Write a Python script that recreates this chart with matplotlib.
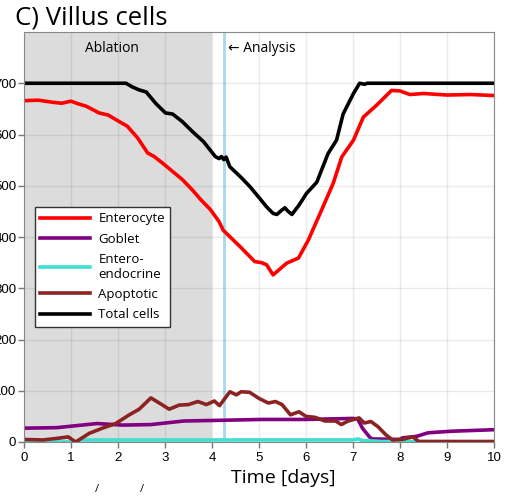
import numpy as np
import matplotlib
matplotlib.use("Agg")
import matplotlib.pyplot as plt

# values (time in days, cell counts)
t_total = [0, 2.17, 2.3, 2.45, 2.6, 2.8, 3.01, 3.16, 3.37, 3.58, 3.82, 4.07, 4.15, 4.2, 4.25, 4.3,
           4.38, 4.6, 4.81, 5.0, 5.16, 5.3, 5.38, 5.48, 5.55, 5.62, 5.70, 5.85, 6.01, 6.23, 6.47,
           6.65, 6.79, 7.01, 7.14, 7.25, 7.3, 10]
total = [700, 700, 693, 687, 683, 661, 642, 640, 625, 606, 586, 557, 553, 557, 551, 556,
         537, 518, 498, 477, 459, 446, 444, 452, 457, 450, 444, 462, 485, 507, 563,
         589, 640, 680, 700, 698, 700, 700]

t_ent = [0, 0.3, 0.6, 0.8, 1.0, 1.15, 1.33, 1.6, 1.79, 2.03, 2.2, 2.42, 2.63, 2.77, 2.95, 3.16,
         3.37, 3.58, 3.76, 3.97, 4.15, 4.24, 4.6, 4.91, 5.05, 5.16, 5.30, 5.45, 5.59, 5.84, 6.05,
         6.30, 6.58, 6.76, 7.01, 7.22, 7.50, 7.82, 8.0, 8.21, 8.5, 9.0, 9.5, 10]
enterocyte = [666, 667, 663, 661, 665, 660, 655, 642, 638, 625, 616, 593, 564, 557, 544, 528,
              512, 492, 473, 453, 430, 413, 381, 352, 350, 346, 326, 338, 349, 359, 394,
              446, 505, 556, 589, 634, 657, 686, 685, 678, 680, 677, 678, 676]

t_gob = [0, 0.7, 1.55, 2.1, 2.7, 3.4, 4.0, 5.05, 6.0, 7.0, 7.1, 7.2, 7.35, 7.4, 8.0, 8.05,
         8.35, 8.6, 9.1, 10]
goblet = [27, 28, 36, 33, 34, 41, 42, 44, 44, 46, 45, 27, 10, 6, 5, 8, 11, 18, 21, 24]

t_ee = [0, 1.1, 1.2, 7.0, 7.1, 7.2, 7.6, 10]
enteroendo = [0, 0, 4, 4, 6, 3, 1, 0]

t_apo = [0, 0.4, 0.7, 0.94, 1.1, 1.39, 1.67, 1.95, 2.24, 2.45, 2.7, 2.88, 3.09, 3.3, 3.5, 3.7,
         3.88, 4.05, 4.16, 4.38, 4.52, 4.62, 4.8, 5.0, 5.2, 5.35, 5.49, 5.67, 5.85, 6.0, 6.2,
         6.4, 6.63, 6.75, 6.9, 7.13, 7.24, 7.38, 7.53, 7.7, 7.84, 8.05, 8.27, 8.4, 10]
apoptotic = [5, 4, 7, 10, 0, 17, 27, 36, 53, 64, 86, 76, 64, 72, 73, 79,
             73, 80, 71, 98, 92, 98, 97, 85, 76, 79, 73, 53, 59, 50, 48,
             41, 41, 34, 41, 47, 37, 40, 30, 14, 4, 5, 10, 1, 1]

ablation_end = 4
analysis_time = 4.25

hfont = ["Open Sans", "DejaVu Sans"]
tfont = ["Liberation Sans", "DejaVu Sans"]

fig = plt.figure(figsize=(5.09, 4.96), dpi=100)
ax = fig.add_axes([24/509, 54/496, 470/509, 410/496])

ax.axvspan(0, ablation_end, color="#dcdcdc", zorder=0.2, lw=0)
ax.axvline(analysis_time, color="#a8d8ea", lw=2, zorder=0.3)
ax.set_axisbelow(True)
ax.grid(True, color="black", alpha=0.08, lw=1)

ax.plot(t_ent, enterocyte, color="#ff0000", lw=2.6, label="Enterocyte")
ax.plot(t_gob, goblet, color="#800080", lw=2.6, label="Goblet")
ax.plot(t_ee, enteroendo, color="#40e0d0", lw=2.6, label="Entero-\nendocrine")
ax.plot(t_apo, apoptotic, color="#8b2323", lw=2.6, label="Apoptotic")
ax.plot(t_total, total, color="black", lw=2.6, label="Total cells")

ax.set_xlim(0, 10)
ax.set_ylim(0, 800)
ax.set_xticks(range(0, 11))
ax.set_yticks(range(0, 800, 100))
for lab in ax.get_xticklabels() + ax.get_yticklabels():
    lab.set_family(tfont)
    lab.set_fontsize(9.5)
ax.tick_params(color="#777777", length=4, width=1)
ax.tick_params(axis="y", pad=1.5)
for s in ax.spines.values():
    s.set_color("#888888")

ax.text(1.87, 768, "Ablation", ha="center", va="center", fontsize=10, family=hfont)
ax.text(4.35, 768, "\u2190 Analysis", ha="left", va="center", fontsize=10, family=hfont)

leg = ax.legend(loc="upper left", bbox_to_anchor=(11/470, 235/410), borderaxespad=0,
                prop={"family": hfont, "size": 9.5}, fancybox=False, framealpha=1,
                edgecolor="#333333", handlelength=3.8, handletextpad=0.6,
                labelspacing=0.55)
leg.get_frame().set_linewidth(1)

fig.text(15/509, 1 - 18/496, "C) Villus cells", fontsize=18.5, family=hfont, va="center")
fig.text(283/509, 1 - 478/496, "Time [days]", fontsize=14, family=hfont, ha="center", va="center")
fig.text(97/509, 1 - 490/496, "/", fontsize=8, family=hfont, ha="center", va="center")
fig.text(142/509, 1 - 489/496, "/", fontsize=8, family=hfont, ha="center", va="center")

fig.savefig("out.png", dpi=100)
